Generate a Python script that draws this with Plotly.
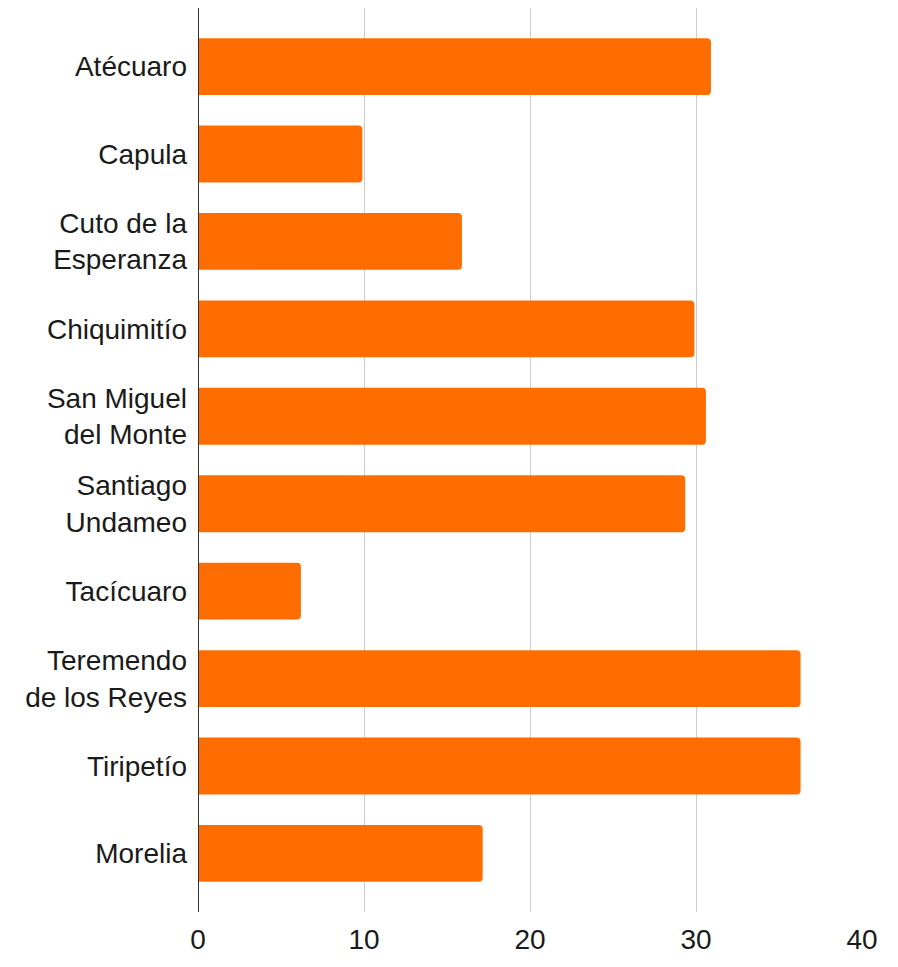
import plotly.graph_objects as go

categories = ["Atécuaro", "Capula", "Cuto de la<br>Esperanza", "Chiquimitío",
              "San Miguel<br>del Monte", "Santiago<br>Undameo", "Tacícuaro",
              "Teremendo<br>de los Reyes", "Tiripetío", "Morelia"]
values = [30.9, 9.9, 15.9, 29.9, 30.6, 29.35, 6.2, 36.3, 36.3, 17.15]
x_ticks = [0, 10, 20, 30, 40]

fig = go.Figure(go.Bar(
    x=values, y=categories, orientation="h",
    marker=dict(color="#FF6D01", line=dict(width=0), cornerradius=4),
    width=0.65,
))

font = dict(family="Liberation Sans, Arial, sans-serif", size=28, color="#1a1a1a")

fig.update_layout(
    width=890, height=959,
    margin=dict(l=190, r=36, t=0, b=55, pad=0),
    paper_bgcolor="white", plot_bgcolor="white",
    font=font, showlegend=False, bargap=0.35,
    xaxis=dict(range=[0, 40], tickvals=x_ticks, showgrid=True,
               gridcolor="#CCCCCC", gridwidth=1, zeroline=False,
               showline=False, ticks="", tickfont=font, fixedrange=True,
               ticklabelstandoff=8),
    yaxis=dict(type="category", range=[9.67, -0.67], showgrid=False,
               zeroline=False, showline=False, ticks="", tickfont=font,
               ticklabelstandoff=10),
    shapes=[dict(type="line", xref="x", yref="paper", x0=0, x1=0, y0=0, y1=1,
                 line=dict(color="#333333", width=2))],
)

fig.write_html("out.html")
